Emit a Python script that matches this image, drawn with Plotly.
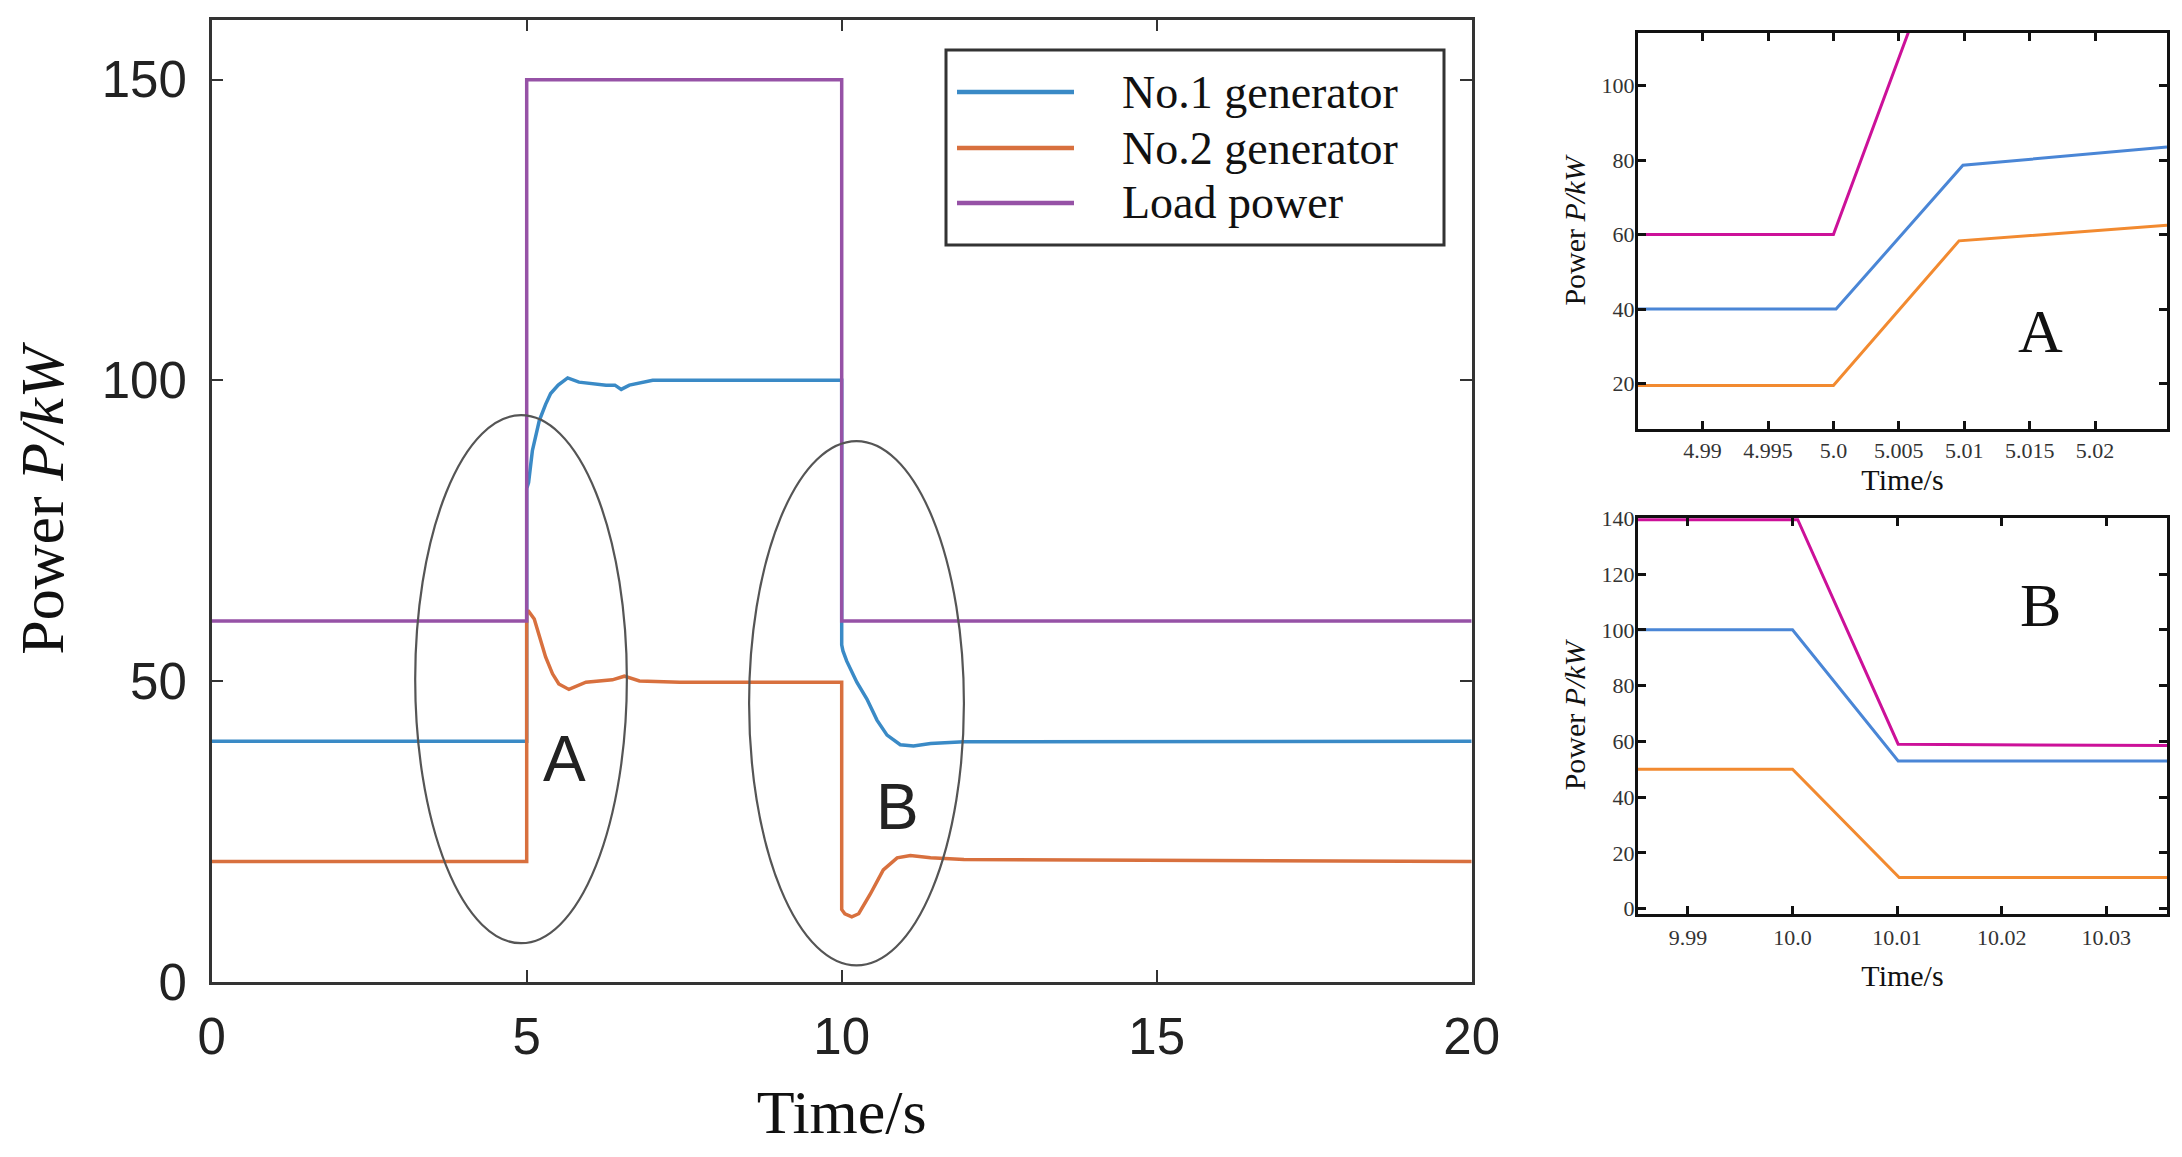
import plotly.graph_objects as go

# ---------------- main chart data ----------------
t_gen1 = [0, 5.0, 5.0, 5.03, 5.09, 5.2, 5.3, 5.38, 5.5, 5.65, 5.83, 6.0, 6.26, 6.4, 6.5, 6.63, 6.8, 7.0, 8.0,
          10.0, 10.0, 10.02, 10.08, 10.24, 10.40, 10.56, 10.72, 10.85, 10.93, 11.14, 11.41, 11.94, 20]
p_gen1 = [40, 40, 82, 83, 88.3, 93.3, 96.0, 97.8, 99.2, 100.4, 99.7, 99.5, 99.2, 99.2, 98.5, 99.2, 99.6, 100, 100,
          100, 56, 55, 53.3, 49.8, 47.0, 43.5, 41.0, 39.9, 39.4, 39.2, 39.6, 39.9, 40]

t_gen2 = [0, 5.0, 5.0, 5.03, 5.12, 5.2, 5.3, 5.41, 5.51, 5.67, 5.94, 6.36, 6.55, 6.79, 7.43, 10.0, 10.0, 10.05,
          10.16, 10.27, 10.45, 10.66, 10.88, 11.09, 11.41, 11.94, 20]
p_gen2 = [20, 20, 61.6, 61.6, 60.3, 57.5, 54, 51.2, 49.5, 48.6, 49.8, 50.2, 50.8, 50, 49.8, 49.8, 12.0, 11.3,
          10.8, 11.3, 14.5, 18.6, 20.6, 21, 20.6, 20.3, 20]

t_load = [0, 5, 5, 10, 10, 20]
p_load = [60, 60, 150, 150, 60, 60]

# ---------------- inset A data ----------------
ta_load = [4.985, 5.0, 5.0095, 5.0255]
pa_load = [60, 60, 150, 150]
ta_gen1 = [4.985, 5.0002, 5.0099, 5.0255]
pa_gen1 = [40, 40, 78.6, 83.5]
ta_gen2 = [4.985, 5.0, 5.0096, 5.0255]
pa_gen2 = [19.5, 19.5, 58.3, 62.5]

# ---------------- inset B data ----------------
tb_load = [9.985, 10.0005, 10.0101, 10.036]
pb_load = [139.5, 139.5, 59, 58.5]
tb_gen1 = [9.985, 10.0, 10.0101, 10.036]
pb_gen1 = [100, 100, 53, 53]
tb_gen2 = [9.985, 10.0, 10.0102, 10.036]
pb_gen2 = [50, 50, 11.2, 11.2]

# tick definitions
main_xticks = [0, 5, 10, 15, 20]
main_yticks = [0, 50, 100, 150]
a_xticks = [4.99, 4.995, 5.0, 5.005, 5.01, 5.015, 5.02]
a_xtext = ["4.99", "4.995", "5.0", "5.005", "5.01", "5.015", "5.02"]
a_yticks = [20, 40, 60, 80, 100]
b_xticks = [9.99, 10.0, 10.01, 10.02, 10.03]
b_xtext = ["9.99", "10.0", "10.01", "10.02", "10.03"]
b_yticks = [0, 20, 40, 60, 80, 100, 120, 140]

names = ["No.1 generator", "No.2 generator", "Load power"]
main_colors = ["#3A8AC6", "#D8703E", "#9652A6"]
inset_colors = ["#4A86D6", "#F28A30", "#CC1199"]

W, H = 2182, 1157
OFF = 8  # page body margin
fig = go.Figure()

for t, p, c, n in [(t_gen1, p_gen1, main_colors[0], names[0]),
                   (t_gen2, p_gen2, main_colors[1], names[1]),
                   (t_load, p_load, main_colors[2], names[2])]:
    fig.add_trace(go.Scatter(x=t, y=p, mode="lines", name=n, line=dict(color=c, width=3.5),
                             xaxis="x", yaxis="y", showlegend=False))

for t, p, c, n in [(ta_load, pa_load, inset_colors[2], names[2]),
                   (ta_gen1, pa_gen1, inset_colors[0], names[0]),
                   (ta_gen2, pa_gen2, inset_colors[1], names[1])]:
    fig.add_trace(go.Scatter(x=t, y=p, mode="lines", name=n, line=dict(color=c, width=3),
                             xaxis="x2", yaxis="y2", showlegend=False, cliponaxis=True))

for t, p, c, n in [(tb_load, pb_load, inset_colors[2], names[2]),
                   (tb_gen1, pb_gen1, inset_colors[0], names[0]),
                   (tb_gen2, pb_gen2, inset_colors[1], names[1])]:
    fig.add_trace(go.Scatter(x=t, y=p, mode="lines", name=n, line=dict(color=c, width=3),
                             xaxis="x3", yaxis="y3", showlegend=False))

sans = "Liberation Sans, Arial, sans-serif"
serif = "Liberation Serif, Times New Roman, serif"

def main_axis(**kw):
    d = dict(showline=True, linecolor="#333333", linewidth=2.5, mirror="ticks", ticks="inside",
             ticklen=12, tickwidth=2, tickcolor="#333333", showgrid=False, zeroline=False,
             automargin=False,
             tickfont=dict(family=sans, size=51, color="#222222"))
    d.update(kw)
    return d

def inset_axis(**kw):
    d = dict(showline=True, linecolor="#111111", linewidth=3, mirror="ticks", ticks="inside",
             ticklen=8, tickwidth=2.5, tickcolor="#111111", showgrid=False, zeroline=False,
             automargin=False,
             tickfont=dict(family=serif, size=22, color="#333333"))
    d.update(kw)
    return d

def px(x):
    return (x - OFF) / W

def py(y):
    return 1 - (y - OFF) / H

fig.update_layout(
    width=W, height=H, margin=dict(l=0, r=0, t=0, b=0, autoexpand=False),
    paper_bgcolor="white", plot_bgcolor="white",
    xaxis=main_axis(domain=[px(211.7), px(1471.7)], range=[0, 20], tickvals=main_xticks,
                    ticklabelstandoff=8,
                    title=dict(text="Time/s", font=dict(family=serif, size=62, color="#111111"), standoff=26),
                    anchor="y"),
    yaxis=main_axis(domain=[py(981.7), py(19.5)], range=[0, 160], tickvals=main_yticks,
                    ticklabelstandoff=12,
                    title=dict(text="Power <i>P/kW</i>", font=dict(family=serif, size=62, color="#111111"),
                               standoff=30),
                    anchor="x"),
    xaxis2=inset_axis(domain=[px(1638), px(2167)], range=[4.98506, 5.0255], tickvals=a_xticks,
                      ticktext=a_xtext, ticklabelstandoff=0, anchor="y2",
                      title=dict(text="Time/s", font=dict(family=serif, size=30, color="#111111"), standoff=6)),
    yaxis2=inset_axis(domain=[py(429), py(33)], range=[7.8, 114.1], tickvals=a_yticks, anchor="x2",
                      ticklabelstandoff=-4,
                      title=dict(text="Power <i>P/kW</i>", font=dict(family=serif, size=30, color="#111111"),
                                 standoff=8)),
    xaxis3=inset_axis(domain=[px(1638), px(2167)], range=[9.98523, 10.0358], tickvals=b_xticks,
                      ticktext=b_xtext, ticklabelstandoff=2, anchor="y3",
                      title=dict(text="Time/s", font=dict(family=serif, size=30, color="#111111"), standoff=16)),
    yaxis3=inset_axis(domain=[py(914), py(517.5)], range=[-1.9, 140.3], tickvals=b_yticks, anchor="x3",
                      ticklabelstandoff=-4,
                      title=dict(text="Power <i>P/kW</i>", font=dict(family=serif, size=30, color="#111111"),
                                 standoff=8)),
)

# ellipses marking regions A and B on the main chart
shapes = [
    dict(type="circle", xref="x", yref="y", x0=3.23, x1=6.59, y0=6.4, y1=94.2,
         line=dict(color="#555555", width=2.2)),
    dict(type="circle", xref="x", yref="y", x0=8.53, x1=11.94, y0=2.7, y1=89.9,
         line=dict(color="#555555", width=2.2)),
]

# manual legend box
lx0, lx1, ly0, ly1 = 946, 1444, 50, 245
shapes.append(dict(type="rect", xref="paper", yref="paper", x0=px(lx0), x1=px(lx1), y0=py(ly1), y1=py(ly0),
                   line=dict(color="#333333", width=3), fillcolor="white", layer="above"))
rows = [92, 148, 203]
annos = []
for yy, c, n in zip(rows, main_colors, names):
    shapes.append(dict(type="line", xref="paper", yref="paper", x0=px(957), x1=px(1074), y0=py(yy), y1=py(yy),
                       line=dict(color=c, width=4.5), layer="above"))
    annos.append(dict(x=px(1120), y=py(yy), xref="paper", yref="paper", text=n, showarrow=False,
                      xanchor="left", yanchor="middle",
                      font=dict(family=serif, size=46, color="#111111")))

# labels A / B
annos.append(dict(x=5.6, y=37.0, xref="x", yref="y", text="A", showarrow=False,
                  font=dict(family=sans, size=64, color="#222222")))
annos.append(dict(x=10.88, y=29.0, xref="x", yref="y", text="B", showarrow=False,
                  font=dict(family=sans, size=64, color="#222222")))
annos.append(dict(x=5.0158, y=34.2, xref="x2", yref="y2", text="A", showarrow=False,
                  font=dict(family=serif, size=62, color="#111111")))
annos.append(dict(x=10.0237, y=109, xref="x3", yref="y3", text="B", showarrow=False,
                  font=dict(family=serif, size=62, color="#111111")))

fig.update_layout(shapes=shapes, annotations=annos)
fig.write_html("out.html")
